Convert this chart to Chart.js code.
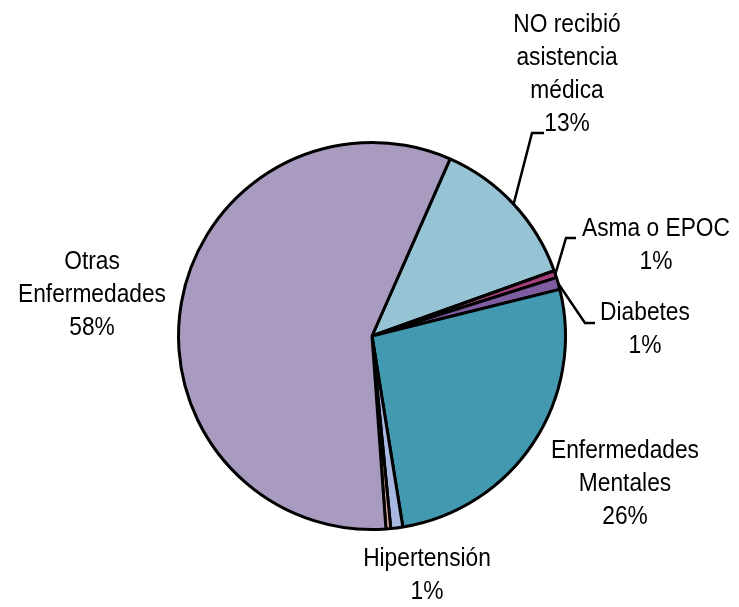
<!DOCTYPE html>
<html>
<head>
<meta charset="utf-8">
<script src="https://cdn.jsdelivr.net/npm/chart.js@4/dist/chart.umd.min.js"></script>
<style>
  html, body { margin: 0; padding: 0; background: #ffffff; }
  #wrap { width: 739px; height: 607px; position: relative; }
</style>
</head>
<body>
<div id="wrap"><canvas id="c" width="739" height="607"></canvas></div>
<script>
// ---- Data ----
const categories = ['NO recibió asistencia médica', 'Asma o EPOC', 'Diabetes', 'Enfermedades Mentales', '', 'Hipertensión', 'Otras Enfermedades'];
const labelLines = [['NO recibió', 'asistencia', 'médica'], ['Asma o EPOC'], ['Diabetes'], ['Enfermedades', 'Mentales'], [], ['Hipertensión'], ['Otras', 'Enfermedades']];
const values = [12.9, 0.6, 1.0, 26.3, 1.0, 0.4, 57.7];
const pctLabels = ['13%', '1%', '1%', '26%', '', '1%', '58%'];
const colors = ['#96c4d4', '#a6407a', '#7e5ca0', '#4399b0', '#a8b8e0', '#e3a3a3', '#a89bbf'];

// label block placement relative to pie centre (dx, dy of block centre), optional leader elbow/end
const labelPlace = [
  { dx: 195, dy: -261, elbow: [160, -203], end: [172, -203] },
  { dx: 284, dy: -90, elbow: [194, -98], end: [204, -98] },
  { dx: 273, dy: -6, elbow: [213, -13], end: [223, -13] },
  { dx: 253, dy: 148 },
  null,
  { dx: 55, dy: 240 },
  { dx: -280, dy: -41 }
];

const FONT = "25px 'Liberation Sans', Arial, sans-serif";
const X_SCALE = 0.91;
const LINE_H = 33;

const labelPlugin = {
  id: 'pieLabels',
  afterDatasetsDraw(chart) {
    const ctx = chart.ctx;
    const meta = chart.getDatasetMeta(0);
    ctx.save();
    ctx.font = FONT;
    ctx.fillStyle = '#000';
    ctx.textAlign = 'center';
    ctx.textBaseline = 'middle';
    meta.data.forEach((arc, i) => {
      const p = labelPlace[i];
      if (!p) return;
      const cx = arc.x, cy = arc.y;
      const mid = (arc.startAngle + arc.endAngle) / 2;
      if (p.elbow) {
        const r = arc.outerRadius;
        ctx.beginPath();
        ctx.lineWidth = 2.5;
        ctx.strokeStyle = '#000';
        ctx.moveTo(cx + Math.cos(mid) * r, cy + Math.sin(mid) * r);
        ctx.lineTo(cx + p.elbow[0], cy + p.elbow[1]);
        ctx.lineTo(cx + p.end[0], cy + p.end[1]);
        ctx.stroke();
      }
      const lines = labelLines[i].concat(pctLabels[i] ? [pctLabels[i]] : []);
      const top = cy + p.dy - (lines.length - 1) * LINE_H / 2;
      lines.forEach((t, k) => {
        ctx.save();
        ctx.translate(cx + p.dx, top + k * LINE_H);
        ctx.scale(X_SCALE, 1);
        ctx.fillText(t, 0, 0);
        ctx.restore();
      });
    });
    ctx.restore();
  }
};

new Chart(document.getElementById('c'), {
  type: 'pie',
  data: {
    labels: categories,
    datasets: [{
      data: values,
      backgroundColor: colors,
      borderColor: '#000000',
      borderWidth: 3
    }]
  },
  options: {
    responsive: false,
    animation: false,
    rotation: 23.8,
    layout: { padding: { left: 177, right: 172, top: 141, bottom: 76 } },
    plugins: {
      legend: { display: false },
      tooltip: { enabled: false },
      title: { display: false }
    }
  },
  plugins: [labelPlugin]
});
</script>
</body>
</html>
